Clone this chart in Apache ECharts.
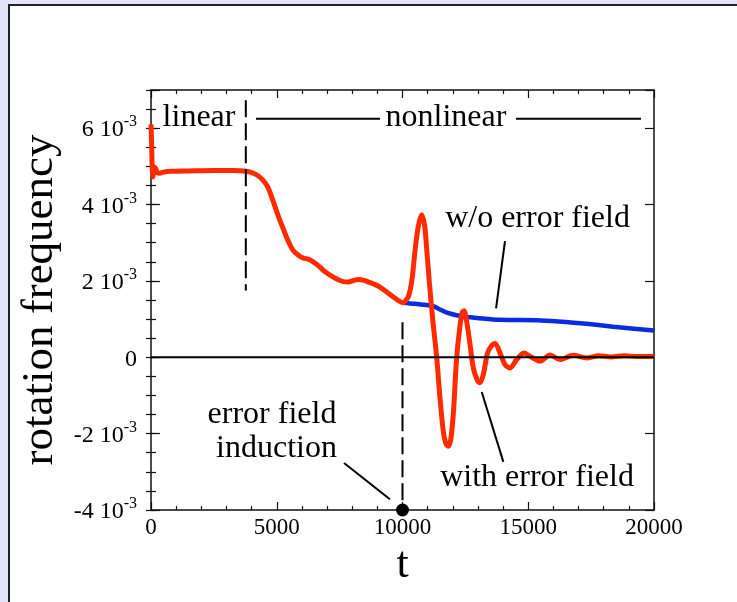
<!DOCTYPE html>
<html>
<head>
<meta charset="utf-8">
<script src="https://cdn.jsdelivr.net/npm/echarts@6/dist/echarts.min.js"></script>
<style>
  html, body { margin: 0; padding: 0; width: 737px; height: 602px; overflow: hidden; background: #e3e3fb; }
  #panel { position: absolute; left: 8px; top: 4px; width: 760px; height: 640px; background: #fff;
           border-left: 2px solid #222; border-top: 2px solid #222; }
  #chart { position: absolute; left: 0; top: 0; width: 737px; height: 602px; }
</style>
</head>
<body>
<div id="panel"></div>
<div id="chart"></div>
<script>
// Rotation frequency (units of 1e-3) against time t.
// With error field: the field is switched on at t = 10000.
const tRed = [0, 25, 50, 75, 110, 150, 200, 260, 350, 500, 800, 1500, 2500, 3300, 3700,
  3950, 4200, 4450, 4650, 4850, 5050, 5250, 5450, 5650, 5850, 6050, 6250, 6450, 6650,
  6850, 7050, 7250, 7450, 7650, 7850, 8050, 8250, 8450, 8650, 8850, 9050, 9250, 9450,
  9650, 9850, 10000, 10120, 10250, 10380, 10500, 10620, 10760, 10880, 10960, 11066,
  11200, 11360, 11490, 11620, 11720, 11820, 11920, 12020, 12090, 12155, 12260, 12365,
  12445, 12550, 12685, 12815, 12975, 13080, 13215, 13375, 13545, 13680, 13880, 14075,
  14275, 14540, 14830, 15135, 15470, 15865, 16260, 16790, 17320, 17800, 18300, 18800,
  19300, 20000];
const wRed = [6.1, 5.6, 4.9, 4.72, 4.92, 4.98, 4.92, 4.83, 4.82, 4.85, 4.87, 4.88, 4.89, 4.89, 4.88,
  4.85, 4.78, 4.64, 4.45, 4.1, 3.72, 3.38, 3.05, 2.8, 2.68, 2.6, 2.57, 2.5, 2.4,
  2.28, 2.18, 2.1, 2.03, 1.98, 1.97, 2.01, 2.04, 2.02, 1.97, 1.92, 1.86, 1.77, 1.67,
  1.57, 1.48, 1.43, 1.48, 1.62, 2.05, 2.8, 3.4, 3.73, 3.45, 2.85, 1.98,
  1.0, 0.0, -1.06, -1.93, -2.25, -2.33, -2.15, -1.49, -0.7, 0.0, 0.68, 1.16,
  1.22, 0.94, 0.34, -0.28, -0.6, -0.67, -0.45, 0.1, 0.31, 0.36, 0.11, -0.19,
  -0.28, -0.06, 0.11, 0.0, -0.1, 0.06, -0.06, 0.05, -0.02, 0.04, 0.01, 0.04,
  0.02, 0.03];

// Without error field (coincides with the curve above for t < 10000).
const tBlue = [10000, 10500, 11030, 11300, 11490, 11800, 12150, 12500, 12950, 13880,
  15340, 16200, 16930, 17700, 18380, 19200, 20000];
const wBlue = [1.43, 1.40, 1.36, 1.32, 1.25, 1.16, 1.10, 1.06, 1.03, 0.98,
  0.97, 0.94, 0.90, 0.85, 0.80, 0.75, 0.70];

// Axis ticks
const xMin = 0, xMax = 20000, xStep = 5000;
const yMin = -4, yMax = 7, yStep = 2, yMinorStep = 0.5;
const yTickValues = [-4, -2, 0, 2, 4, 6];
const yExponent = '-3';

const onsetT = 10000;     // error field switched on
const linearEndT = 3770;  // end of the linear phase

const SERIF = '"Liberation Serif", "Times New Roman", serif';
const INK = '#000';

const pairs = (ts, ws) => ts.map((t, i) => [t, ws[i]]);

// Annotation texts, anchored in data coordinates
const notes = [
  { text: 'linear', at: [1910, 6.28] },
  { text: 'nonlinear', at: [11730, 6.28] },
  { text: 'w/o error field', at: [15370, 3.62] },
  { text: 'with error field', at: [15350, -3.15] },
  { text: 'error field', at: [4810, -1.49] },
  { text: 'induction', at: [4990, -2.38] }
];

// Guide lines, in data coordinates
const guides = [
  { pts: [[linearEndT, 6.73], [linearEndT, 1.75]], dash: [17, 6] },
  { pts: [[onsetT, 0.92], [onsetT, yMin]], dash: [17, 6] },
  { pts: [[4175, 6.25], [9105, 6.25]] },
  { pts: [[14513, 6.25], [19483, 6.25]] },
  { pts: [[7675, -2.77], [9500, -3.72]] },
  { pts: [[14075, 3.04], [13720, 1.28]] },
  { pts: [[13150, -0.91], [14010, -2.74]] }
];

const yLabel = v => {
  if (!yTickValues.includes(v)) return '';
  if (v === 0) return '{b|0}';
  return '{b|' + v + ' 10}{s|' + yExponent + '}';
};

const tickStyle = { color: '#111', width: 1.2 };

const baseAxis = {
  axisLine: { show: true, onZero: false, lineStyle: { color: '#111', width: 1.5 } },
  splitLine: { show: false },
  axisLabel: { show: false }
};

const chart = echarts.init(document.getElementById('chart'), null, { renderer: 'canvas' });

const series = [
  {
    type: 'line', name: 'w/o error field', data: pairs(tBlue, wBlue),
    symbol: 'none', smooth: 0.3, z: 3,
    lineStyle: { color: '#0a2be0', width: 4.5 }
  },
  {
    type: 'line', name: 'with error field', data: pairs(tRed, wRed),
    symbol: 'none', smooth: 0.3, z: 4,
    lineStyle: { color: '#ff2a00', width: 5 }
  },
  {
    type: 'line', data: [[xMin, 0], [xMax, 0]], symbol: 'none', z: 5, silent: true,
    lineStyle: { color: '#000', width: 2 }
  }
];

guides.forEach(g => series.push({
  type: 'line', data: g.pts, symbol: 'none', z: 6, silent: true,
  lineStyle: { color: '#000', width: 2, type: g.dash || 'solid' }
}));

series.push({
  type: 'scatter', data: [[onsetT, yMin]], symbol: 'circle', symbolSize: 13, z: 7,
  silent: true, itemStyle: { color: '#000', opacity: 1 }, clip: false
});

series.push({
  type: 'scatter', z: 8, silent: true, symbolSize: 1, clip: false,
  itemStyle: { color: 'rgba(0,0,0,0)', opacity: 1 },
  data: notes.map(n => ({ value: n.at, label: { formatter: n.text } })),
  label: {
    show: true, position: 'inside', align: 'center', verticalAlign: 'middle',
    fontFamily: SERIF, fontSize: 32, color: INK, opacity: 1,
    textBorderWidth: 0
  }
});

chart.setOption({
  animation: false,
  backgroundColor: 'transparent',
  grid: { left: 151, top: 90, right: 83, bottom: 92, containLabel: false },
  xAxis: [
    Object.assign({}, baseAxis, {
      type: 'value', position: 'bottom', min: xMin, max: xMax, interval: xStep,
      axisTick: { show: true, inside: true, length: 8, lineStyle: tickStyle },
      minorTick: { show: true, splitNumber: 5, length: 4, lineStyle: tickStyle },
      axisLabel: { show: true, margin: 6, fontFamily: SERIF, fontSize: 23, color: INK,
                   formatter: v => String(v) },
      name: 't', nameLocation: 'middle', nameGap: 30,
      nameTextStyle: { fontFamily: SERIF, fontSize: 44, color: INK }
    }),
    Object.assign({}, baseAxis, {
      type: 'value', position: 'top', min: xMin, max: xMax, interval: xStep,
      axisTick: { show: true, inside: true, length: 8, lineStyle: tickStyle },
      minorTick: { show: true, splitNumber: 5, length: 4, lineStyle: tickStyle }
    })
  ],
  yAxis: [
    Object.assign({}, baseAxis, {
      type: 'value', position: 'left', min: yMin, max: yMax, interval: yStep,
      axisTick: { show: true, inside: true, length: 9, lineStyle: tickStyle },
      axisLabel: {
        show: true, margin: 14, formatter: yLabel, showMaxLabel: true, showMinLabel: true,
        rich: {
          b: { fontFamily: SERIF, fontSize: 24, color: INK, lineHeight: 28, verticalAlign: 'bottom' },
          s: { fontFamily: SERIF, fontSize: 16, color: INK, lineHeight: 16, verticalAlign: 'top' }
        }
      },
      name: 'rotation frequency', nameLocation: 'middle', nameGap: 85, nameRotate: 90,
      nameTextStyle: { fontFamily: SERIF, fontSize: 45, color: INK }
    }),
    Object.assign({}, baseAxis, {
      type: 'value', position: 'left', min: yMin, max: yMax, interval: yMinorStep,
      axisLine: { show: false },
      axisTick: { show: true, inside: true, length: 5, lineStyle: tickStyle }
    }),
    Object.assign({}, baseAxis, {
      type: 'value', position: 'right', min: yMin, max: yMax, interval: yStep,
      axisTick: { show: true, inside: true, length: 9, lineStyle: tickStyle }
    }),
    Object.assign({}, baseAxis, {
      type: 'value', position: 'right', min: yMin, max: yMax, interval: yMinorStep,
      axisLine: { show: false },
      axisTick: { show: true, inside: true, length: 5, lineStyle: tickStyle }
    })
  ],
  series: series
});
</script>
</body>
</html>
